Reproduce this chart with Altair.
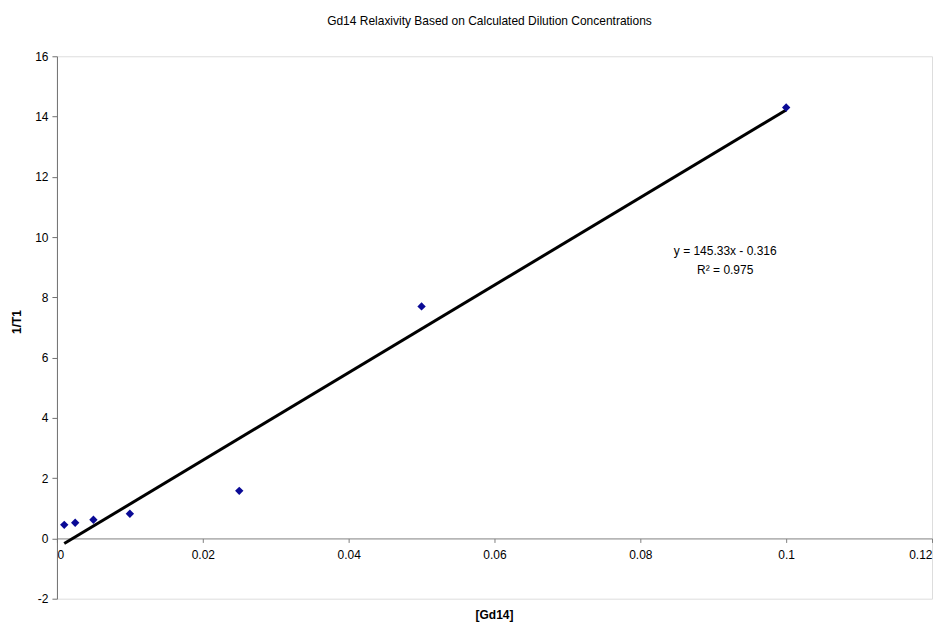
import altair as alt
import pandas as pd

# data
conc = [0.001, 0.0025, 0.005, 0.01, 0.025, 0.05, 0.1]
inv_t1 = [0.45, 0.52, 0.62, 0.82, 1.58, 7.70, 14.30]
trend_x = [0.001, 0.1]
trend_y = [-0.17, 14.22]
x_ticks = [0, 0.02, 0.04, 0.06, 0.08, 0.1, 0.12]
y_ticks = [-2, 0, 2, 4, 6, 8, 10, 12, 14, 16]

title_text = "Gd14 Relaxivity Based on Calculated Dilution Concentrations"
x_title = "[Gd14]"
y_title = "1/T1"
eq_lines = ["y = 145.33x - 0.316", "R\u00b2 = 0.975"]

W, H = 876, 543
FONT = "Liberation Sans"

pts = pd.DataFrame({"x": conc, "y": inv_t1})
trend = pd.DataFrame({"x": trend_x, "y": trend_y})

xscale = alt.Scale(domain=[0, 0.12], nice=False, zero=False)
yscale = alt.Scale(domain=[-2, 16], nice=False, zero=False)

# y=0 sits 16/18 of the way down
x_offset = -(H - H * 16 / 18)

line = alt.Chart(trend).mark_line(color="black", strokeWidth=3).encode(
    x=alt.X("x:Q", scale=xscale,
            axis=alt.Axis(values=x_ticks, labelExpr="'' + datum.value", title=None, grid=False,
                          offset=x_offset, domainColor="#808080", tickColor="#808080",
                          tickSize=4, labelPadding=7, labelFontSize=12,
                          labelFont=FONT, labelColor="black")),
    y=alt.Y("y:Q", scale=yscale,
            axis=alt.Axis(values=y_ticks, labelExpr="'' + datum.value", title=None, grid=False,
                          domainColor="#707070", tickColor="#707070", tickSize=5,
                          labelPadding=4, labelFontSize=12, labelFont=FONT,
                          labelColor="black")),
)

points = alt.Chart(pts).mark_point(shape="diamond", filled=True, size=70,
                                   color="#0A0A96", opacity=1).encode(
    x=alt.X("x:Q", scale=xscale),
    y=alt.Y("y:Q", scale=yscale),
)

one = pd.DataFrame({"k": [0]})

title_mark = alt.Chart(one).mark_text(font=FONT, fontSize=12, baseline="middle",
                                      align="center", color="black").encode(
    x=alt.value(433), y=alt.value(-35), text=alt.value(title_text))

xt = alt.Chart(one).mark_text(font=FONT, fontSize=12, fontWeight="bold",
                              baseline="middle", align="center", color="black").encode(
    x=alt.value(W / 2), y=alt.value(559), text=alt.value(x_title))

yt = alt.Chart(one).mark_text(font=FONT, fontSize=12, fontWeight="bold", angle=270,
                              baseline="middle", align="center", color="black").encode(
    x=alt.value(-40), y=alt.value(266), text=alt.value(y_title))

eq1 = alt.Chart(one).mark_text(font=FONT, fontSize=12, baseline="middle",
                               align="center", color="black").encode(
    x=alt.value(669), y=alt.value(195), text=alt.value(eq_lines[0]))
eq2 = alt.Chart(one).mark_text(font=FONT, fontSize=12, baseline="middle",
                               align="center", color="black").encode(
    x=alt.value(669), y=alt.value(214), text=alt.value(eq_lines[1]))

chart = alt.layer(line, points, title_mark, xt, yt, eq1, eq2).properties(
    width=W, height=H,
    autosize=alt.AutoSizeParams(type="none"),
    padding={"left": 49, "top": 48, "right": 10, "bottom": 26},
).configure_view(stroke="#A8A8A8", strokeWidth=1).configure(background="white")

chart.save("out.html", embed_options={"renderer": "svg", "actions": False})
